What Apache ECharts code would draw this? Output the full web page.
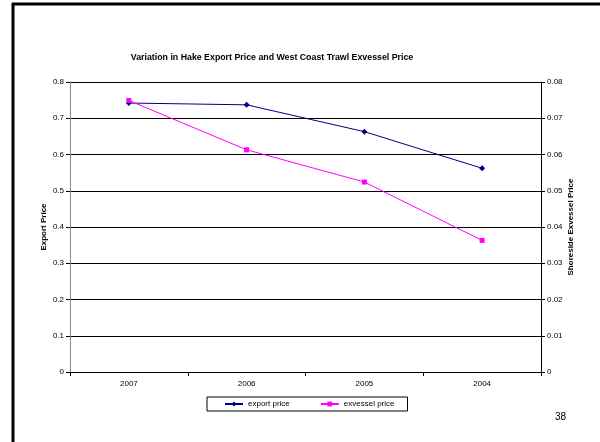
<!DOCTYPE html>
<html>
<head>
<meta charset="utf-8">
<script src="https://cdn.jsdelivr.net/npm/echarts@6/dist/echarts.min.js"></script>
<style>
  html, body { margin: 0; padding: 0; background: #fff; }
  #chart { width: 600px; height: 442px; }
</style>
</head>
<body>
<div id="chart"></div>
<script>
// Years on the category axis (most recent first)
const years = ['2007', '2006', '2005', '2004'];
// Hake export price (left axis)
const exportPrice = [0.742, 0.737, 0.663, 0.562];
// West Coast trawl shoreside exvessel price (right axis)
const exvesselPrice = [0.0749, 0.0613, 0.0524, 0.0363];
// Axis tick settings
const leftTicks = { min: 0, max: 0.8, interval: 0.1 };
const rightTicks = { min: 0, max: 0.08, interval: 0.01 };

const FONT = 'Liberation Sans, Arial, sans-serif';
const chart = echarts.init(document.getElementById('chart'), null, { renderer: 'canvas' });

const fmt = v => (Math.round(v * 1000) / 1000).toString();

chart.setOption({
  backgroundColor: '#ffffff',
  animation: false,
  title: {
    text: 'Variation in Hake Export Price and West Coast Trawl Exvessel Price',
    left: 267,
    top: 48,
    textAlign: 'center',
    textStyle: { fontFamily: FONT, fontSize: 8.8, fontWeight: 'bold', color: '#000' }
  },
  legend: {
    left: 207,
    top: 397,
    orient: 'horizontal',
    itemGap: 30,
    itemWidth: 18,
    itemHeight: 6,
    padding: [3, 13, 3, 17],
    borderColor: '#000',
    borderWidth: 1,
    textStyle: { fontFamily: FONT, fontSize: 8, color: '#000' },
    data: ['export price', 'exvessel price']
  },
  grid: { left: 70, right: 59, top: 82, bottom: 70, containLabel: false },
  xAxis: {
    type: 'category',
    data: years,
    boundaryGap: true,
    axisLine: { lineStyle: { color: '#000', width: 1 } },
    axisTick: { show: true, inside: false, length: 4, lineStyle: { color: '#000' } },
    axisLabel: { fontFamily: FONT, fontSize: 8, color: '#000', margin: 8 },
    splitLine: { show: false }
  },
  yAxis: [
    {
      type: 'value',
      min: leftTicks.min, max: leftTicks.max, interval: leftTicks.interval,
      name: 'Export Price',
      nameLocation: 'middle',
      nameGap: 22,
      nameMoveOverlap: false,
      nameRotate: 90,
      nameTextStyle: { fontFamily: FONT, fontSize: 8, fontWeight: 'bold', color: '#000' },
      axisLine: { show: true, lineStyle: { color: '#888', width: 1 } },
      axisTick: { show: true, length: 4, lineStyle: { color: '#000' } },
      axisLabel: { fontFamily: FONT, fontSize: 8, color: '#000', margin: 6, formatter: fmt },
      splitLine: { show: true, lineStyle: { color: '#000', width: 1 } }
    },
    {
      type: 'value',
      position: 'right',
      min: rightTicks.min, max: rightTicks.max, interval: rightTicks.interval,
      name: 'Shoreside Exvessel Price',
      nameLocation: 'middle',
      nameGap: 26,
      nameMoveOverlap: false,
      nameRotate: 90,
      nameTextStyle: { fontFamily: FONT, fontSize: 8, fontWeight: 'bold', color: '#000' },
      axisLine: { show: true, lineStyle: { color: '#000', width: 1 } },
      axisTick: { show: true, length: 4, lineStyle: { color: '#000' } },
      axisLabel: { fontFamily: FONT, fontSize: 8, color: '#000', margin: 6, formatter: fmt },
      splitLine: { show: false }
    }
  ],
  series: [
    {
      name: 'export price',
      type: 'line',
      yAxisIndex: 0,
      data: exportPrice,
      symbol: 'diamond',
      symbolSize: 6,
      lineStyle: { color: '#000080', width: 1 },
      itemStyle: { color: '#000080' },
      z: 3
    },
    {
      name: 'exvessel price',
      type: 'line',
      yAxisIndex: 1,
      data: exvesselPrice,
      symbol: 'rect',
      symbolSize: 5,
      lineStyle: { color: '#ff00ff', width: 1 },
      itemStyle: { color: '#ff00ff' },
      z: 4
    }
  ],
  graphic: [
    // slide frame: top and left edges
    { type: 'line', shape: { x1: 12, y1: 4, x2: 600, y2: 4 }, style: { stroke: '#000', lineWidth: 3 } },
    { type: 'line', shape: { x1: 13, y1: 3, x2: 13, y2: 442 }, style: { stroke: '#000', lineWidth: 3 } },
    // slide number
    { type: 'text', left: 555, top: 412, style: { text: '38', font: '10px ' + FONT, fill: '#000' } }
  ]
});
</script>
</body>
</html>
